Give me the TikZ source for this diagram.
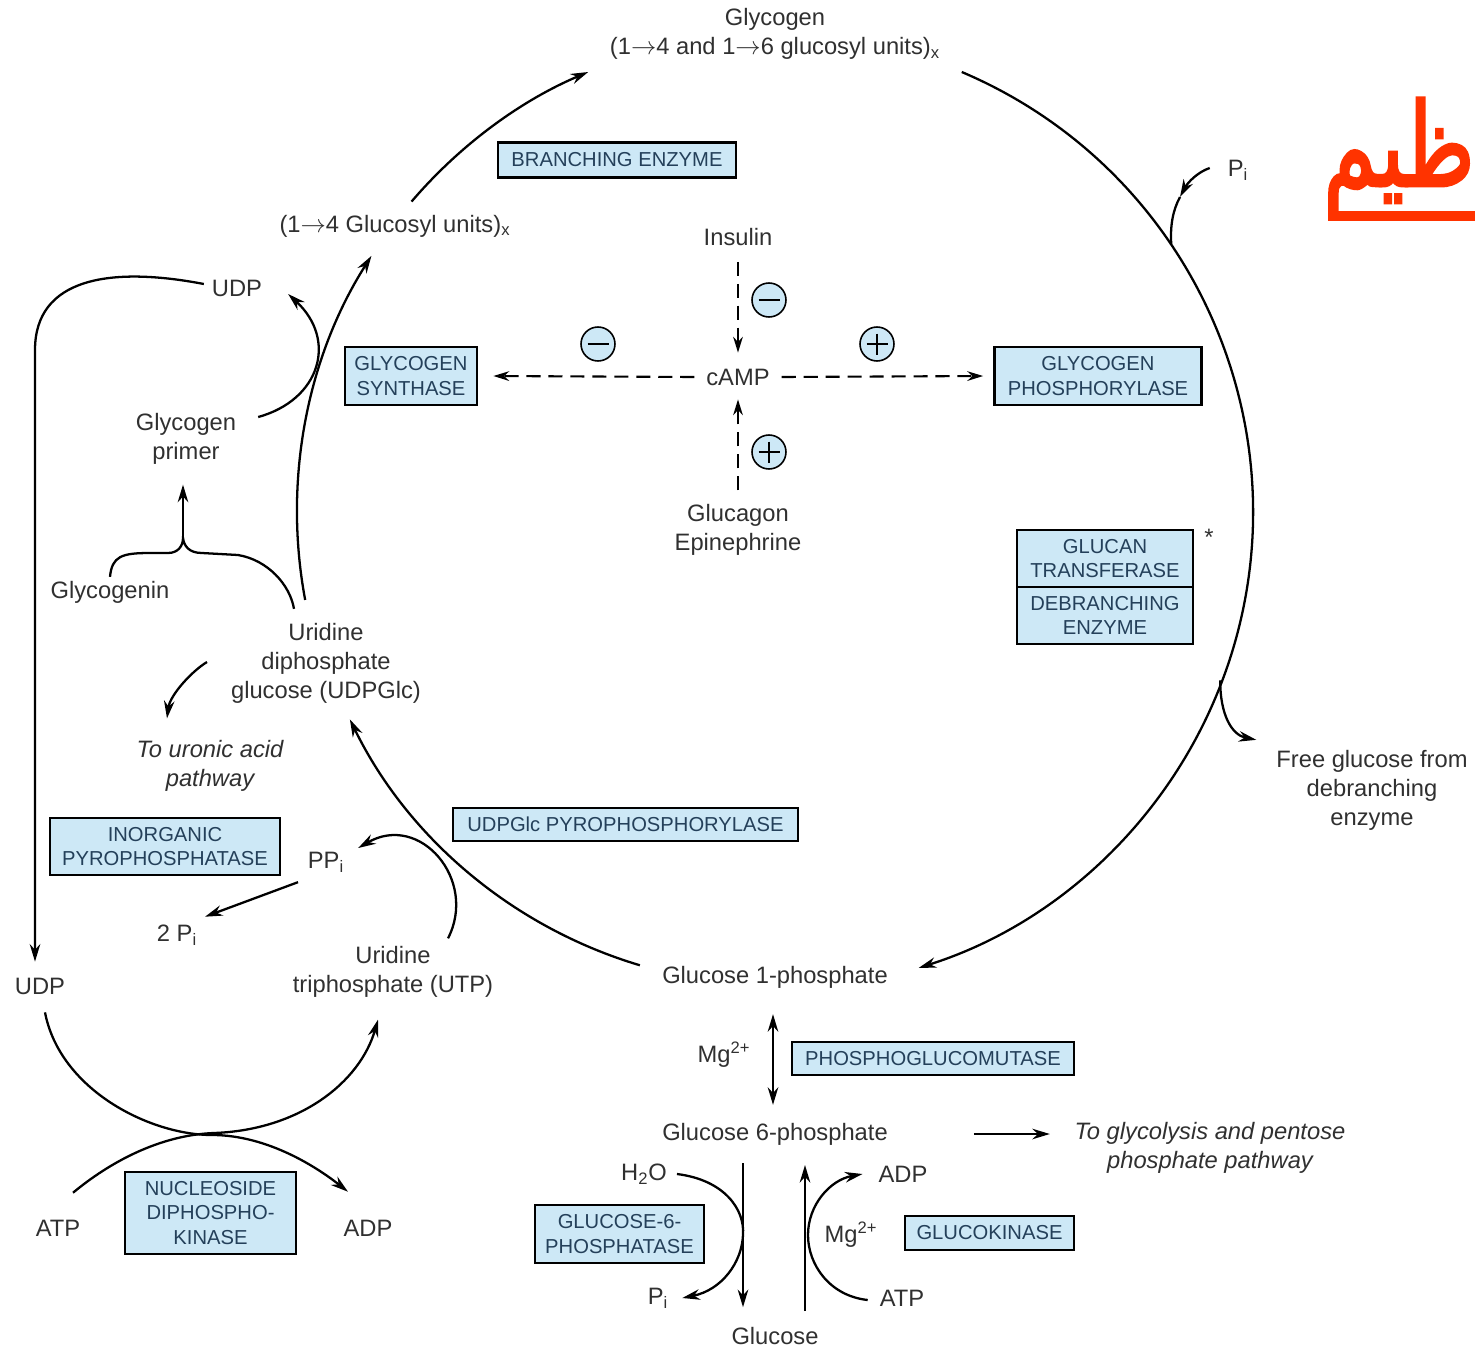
\documentclass[tikz,border=0pt]{standalone}
\usepackage{fontspec}
\setmainfont{Liberation Sans}
\newfontfamily\arabicfont[Script=Arabic,FakeBold=2.5]{DejaVu Sans}
\TeXXeTstate=1
\usetikzlibrary{arrows.meta,calc}
\definecolor{txt}{HTML}{303030}
\definecolor{boxblue}{HTML}{CDE8F6}
\definecolor{enztxt}{HTML}{24405A}
\definecolor{arred}{HTML}{FF3300}
\begin{document}
\begin{tikzpicture}[x=0.02cm,y=-0.02cm,
  lbl/.style={font=\fontsize{13.5}{16.5}\selectfont, text=txt, align=center, inner sep=1pt},
  ital/.style={font=\fontsize{13.5}{16.5}\selectfont\itshape, text=txt, align=center, inner sep=1pt},
  enz/.style={draw=black, line width=1.6pt, fill=boxblue, text=enztxt, font=\fontsize{11.5}{14}\selectfont, align=center, inner sep=1pt},
  ln/.style={line width=1.3pt, draw=black},
  arr/.style={ln, -{Stealth[length=10pt,width=6pt]}},
  darr/.style={line width=1.2pt, draw=black, dash pattern=on 8pt off 4.5pt, -{Stealth[length=9pt,width=5.5pt]}},
  minus/.style={circle, draw, fill=boxblue, minimum size=0.68cm, inner sep=0pt, line width=0.9pt,
    path picture={\draw[line width=1pt] ([xshift=0.13cm]path picture bounding box.west) -- ([xshift=-0.13cm]path picture bounding box.east);}},
  plus/.style={circle, draw, fill=boxblue, minimum size=0.68cm, inner sep=0pt, line width=0.9pt,
    path picture={\draw[line width=1pt] ([xshift=0.13cm]path picture bounding box.west) -- ([xshift=-0.13cm]path picture bounding box.east);
                  \draw[line width=1pt] ([yshift=-0.13cm]path picture bounding box.north) -- ([yshift=0.13cm]path picture bounding box.south);}},
]
\useasboundingbox (0,0) rectangle (1475,1349);
\fill[white] (0,0) rectangle (1475,1349);

% ---------- circle centre ----------
\coordinate (C) at (775,512);

% ---------- labels ----------
\node[lbl] (glyc) at (775,34) {Glycogen\\(1$\rightarrow$4 and 1$\rightarrow$6 glucosyl units)\textsubscript{x}};
\node[lbl] (g14) at (395,226) {(1$\rightarrow$4 Glucosyl units)\textsubscript{x}};
\node[lbl] (insulin) at (738,237) {Insulin};
\node[lbl] (camp) at (738,377) {cAMP};
\node[lbl] (gluc) at (738,530) {Glucagon\\Epinephrine};
\node[lbl] (udp1) at (237,288) {UDP};
\node[lbl] (primer) at (186,439) {Glycogen\\primer};
\node[lbl] (glycogenin) at (110,592) {Glycogenin};
\node[lbl] (udpglc) at (326,663) {Uridine\\diphosphate\\glucose (UDPGlc)};
\node[ital] (uronic) at (210,766) {To uronic acid\\pathway};
\node[lbl] (ppi) at (326,862) {PP\textsubscript{i}};
\node[lbl] (twopi) at (177,935) {2 P\textsubscript{i}};
\node[lbl] (udp2) at (40,986) {UDP};
\node[lbl] (utp) at (393,972) {Uridine\\triphosphate (UTP)};
\node[lbl] (atp1) at (58,1228) {ATP};
\node[lbl] (adp1) at (368,1228) {ADP};
\node[lbl] (g1p) at (775,977) {Glucose 1-phosphate};
\node[lbl] (mg1) at (724,1055) {Mg\textsuperscript{2+}};
\node[lbl] (g6p) at (775,1134) {Glucose 6-phosphate};
\node[ital] (glycolysis) at (1210,1148) {To glycolysis and pentose\\phosphate pathway};
\node[lbl] (h2o) at (644,1174) {H\textsubscript{2}O};
\node[lbl] (pi2) at (658,1298) {P\textsubscript{i}};
\node[lbl] (adp2) at (903,1174) {ADP};
\node[lbl] (atp2) at (902,1298) {ATP};
\node[lbl] (mg2) at (851,1235) {Mg\textsuperscript{2+}};
\node[lbl] (glucose) at (775,1336) {Glucose};
\node[lbl] (pi1) at (1238,170) {P\textsubscript{i}};
\node[lbl] (free) at (1372,790) {Free glucose from\\debranching\\enzyme};
\node[lbl] (star) at (1209,537) {*};

% ---------- enzyme boxes ----------
\node[enz, minimum width=4.76cm, minimum height=0.70cm] (branch) at (617,160) {BRANCHING ENZYME};
\node[enz, minimum width=2.64cm, minimum height=1.16cm] (gs) at (411,376) {GLYCOGEN\\SYNTHASE};
\node[enz, minimum width=4.14cm, minimum height=1.16cm] (gp) at (1098,376) {GLYCOGEN\\PHOSPHORYLASE};
\node[enz, minimum width=3.52cm, minimum height=1.14cm] (gt) at (1105,558.5) {GLUCAN\\TRANSFERASE};
\node[enz, minimum width=3.52cm, minimum height=1.14cm] (deb) at (1105,615.5) {DEBRANCHING\\ENZYME};
\node[enz, minimum width=4.60cm, minimum height=1.14cm] (ipp) at (165,846.5) {INORGANIC\\PYROPHOSPHATASE};
\node[enz, minimum width=6.90cm, minimum height=0.66cm] (udpp) at (625.5,824.5) {UDPGlc PYROPHOSPHORYLASE};
\node[enz, minimum width=3.42cm, minimum height=1.64cm] (ndk) at (210.5,1213) {NUCLEOSIDE\\DIPHOSPHO-\\KINASE};
\node[enz, minimum width=5.64cm, minimum height=0.66cm] (pgm) at (933,1058.5) {PHOSPHOGLUCOMUTASE};
\node[enz, minimum width=3.38cm, minimum height=1.16cm] (g6pase) at (619.5,1234) {GLUCOSE-6-\\PHOSPHATASE};
\node[enz, minimum width=3.38cm, minimum height=0.68cm] (gk) at (989.5,1233) {GLUCOKINASE};

% ---------- signs ----------
\node[minus] (s1) at (769,300) {};
\node[minus] (s2) at (598,344) {};
\node[plus]  (s3) at (877,344) {};
\node[plus]  (s4) at (769,452) {};

% ---------- big cycle arcs ----------
\draw[arr] ($(C)+(-139.5:478)$) arc[start angle=-139.5, end angle=-113, radius=478];
\draw[arr] ($(C)+(-67:478)$) arc[start angle=-67, end angle=72.5, radius=478];
\draw[arr] ($(C)+(106.6:473)$) arc[start angle=106.6, end angle=154, radius=473];
\draw[arr] ($(C)+(169.4:478)$) arc[start angle=169.4, end angle=212.4, radius=478];

% ---------- regulation (dashed) ----------
\draw[darr] ($(insulin.south)+(0,14)$) -- ($(camp.north)+(0,-14)$);
\draw[darr] ($(gluc.north)+(0,-12)$) -- ($(camp.south)+(0,12)$);
\draw[darr] ($(camp.west)+(-10,0)$) -- ($(gs.east)+(15,0)$);
\draw[darr] ($(camp.east)+(10,0)$) -- ($(gp.west)+(-10,0)$);

% ---------- left side ----------
\draw[arr] ($(udp1.west)+(-6,-4)$) .. controls (110,266) and (35,278) .. (35,350) -- ($(udp2.north)+(-5,-14)$);
\draw[arr] ($(primer.east)+(20,-22)$) .. controls (320,400) and (338,340) .. ($(udp1.east)+(24,6)$);
\draw[ln] ($(glycogenin.north)+(0,-2)$) .. controls (112,556) and (122,553) .. (150,553) -- (168,553) .. controls (178,553) and (183,546) .. (183,538)
          .. controls (184,546) and (189,553) .. (202,553) -- (238,555) .. controls (268,560) and (290,585) .. ($(udpglc.north)+(-32,-12)$);
\draw[arr] (183,538) -- ($(primer.south)+(-3,18)$);
\draw[arr] ($(udpglc.west)+(-22,-1)$) .. controls (192,671) and (170,695) .. ($(uronic.north)+(-43,-20)$);
\draw[arr] ($(utp.north)+(55,-6)$) .. controls (478,880) and (420,812) .. ($(ppi.east)+(12,-14)$);
\draw[arr] ($(ppi.south)+(-28,8)$) -- ($(twopi.north)+(28,-6)$);
\draw[arr] ($(udp2.south)+(5,16)$) .. controls (60,1090) and (150,1135) .. (212,1135) .. controls (268,1135) and (318,1168) .. ($(adp1.north)+(-20,-26)$);
\draw[arr] ($(atp1.north)+(15,-25)$) .. controls (110,1162) and (160,1135) .. (214,1133) .. controls (300,1130) and (360,1082) .. ($(utp.south)+(-15,20)$);

% ---------- right side ----------
\draw[arr] ($(pi1.west)+(-16,-2)$) .. controls (1198,172) and (1188,182) .. (1180,197);
\draw[ln] (1180,197) .. controls (1173,210) and (1170,225) .. ($(C)+(-34:478)$);
\draw[arr] ($(C)+(20.7:476)$) .. controls (1220,715) and (1232,735) .. ($(free.north west)+(-18,-8)$);

% ---------- bottom ----------
\draw[ln, {Stealth[length=10pt,width=6pt]}-{Stealth[length=10pt,width=6pt]}] ($(g1p.south)+(-2,24)$) -- ($(g6p.north)+(-2,-16)$);
\draw[arr] ($(g6p.east)+(84,0)$) -- ($(g6p.east)+(160,0)$);
\draw[arr] (743,1163) -- ($(glucose.north)+(-32,-18)$);
\draw[arr] ($(glucose.north)+(30,-14)$) -- (805,1165);
\draw[arr] ($(h2o.east)+(8,0)$) .. controls (725,1180) and (745,1210) .. (743,1235) .. controls (742,1262) and (722,1290) .. ($(pi2.east)+(12,0)$);
\draw[arr] ($(atp2.west)+(-10,2)$) .. controls (830,1296) and (808,1265) .. (808,1235) .. controls (808,1205) and (830,1180) .. ($(adp2.west)+(-14,0)$);

% ---------- red Arabic fragment at the right edge ----------
\node[anchor=base east, inner sep=0pt, text=arred, font=\fontsize{66}{66}\selectfont] (arab) at (1475,186) {\scalebox{0.74}[1]{\arabicfont\beginR ظيم\endR}};
\fill[arred] (1328,211) rectangle (1475,221);
\end{tikzpicture}
\end{document}
